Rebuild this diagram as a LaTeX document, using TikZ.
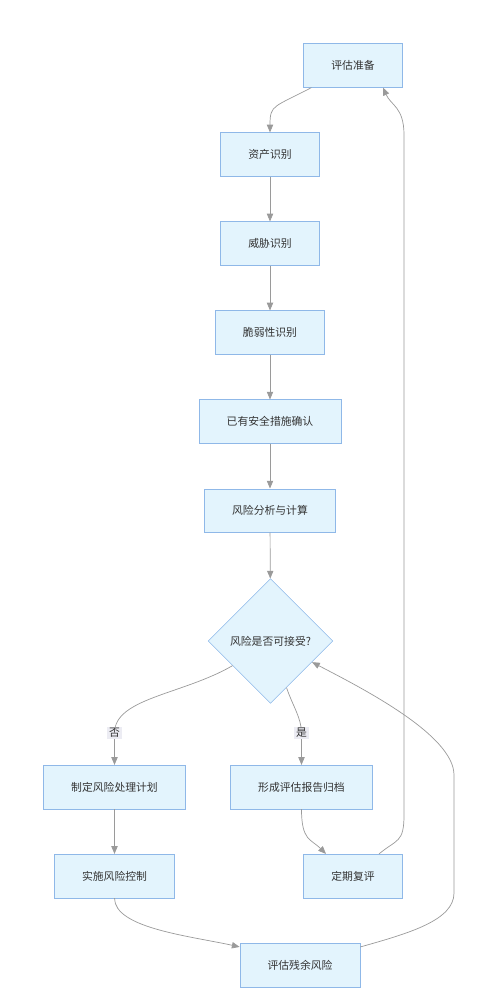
\documentclass[tikz,border=0pt]{standalone}
\usepackage{fontspec}
\setmainfont{Noto Sans CJK SC}
\usepackage{xcolor}
\usetikzlibrary{shapes.geometric, arrows.meta, positioning}
\definecolor{boxfill}{HTML}{E3F4FD}
\definecolor{boxline}{HTML}{8FB8E8}
\definecolor{linegray}{HTML}{9A9A9A}
\definecolor{tagfill}{HTML}{ECECF3}
\definecolor{textdark}{HTML}{333333}
\tikzstyle{process} = [rectangle, minimum height=1.09cm, inner xsep=0.69cm, text centered, draw=boxline, fill=boxfill, text=textdark, font=\fontsize{7.7}{9}\selectfont]
\tikzstyle{decision} = [diamond, minimum width=3.12cm, minimum height=3.12cm, inner sep=0pt, text centered, draw=boxline, fill=boxfill, text=textdark, font=\fontsize{7.7}{9}\selectfont]
\tikzstyle{arrow} = [linegray, line width=0.5pt, ->, >={Stealth[length=5.5pt, width=4.5pt, inset=0pt]}]
\tikzstyle{tag} = [fill=tagfill, text=textdark, inner sep=1.2pt, font=\fontsize{7.7}{9}\selectfont]

\begin{document}
\begin{tikzpicture}[x=0.025cm, y=-0.025cm, node distance=2.225cm]
        \useasboundingbox (0,0) rectangle (498,1000);

        \node (ready) [process] at (353,65.5) {评估准备};
        \node (asset) [process] at (270,154.5) {资产识别};
        \node (threat) [process, below of=asset] {威胁识别};
        \node (vuln) [process, below of=threat] {脆弱性识别};
        \node (exist) [process, below of=vuln] {已有安全措施确认};
        \node (calc) [process, below of=exist] {风险分析与计算};
        \node (accept) [decision] at (270.5,641) {风险是否可接受?};
        \node (plan) [process] at (114.5,787) {制定风险处理计划};
        \node (report) [process] at (301.5,787) {形成评估报告归档};
        \node (apply) [process] at (114.5,876) {实施风险控制};
        \node (review) [process] at (353,876) {定期复评};
        \node (resid) [process] at (300,965) {评估残余风险};

        \draw [arrow] ([xshift=0.2cm]ready.south west) .. controls +(-38,20) and +(0,-28) .. (asset.north);
        \draw [arrow] (asset) -- (threat);
        \draw [arrow] (threat) -- (vuln);
        \draw [arrow] (vuln) -- (exist);
        \draw [arrow] (exist) -- (calc);
        \draw [arrow] (calc) -- (accept);

        % 否 / 是
        \draw [arrow] (accept.213) .. controls +(-50,29) and +(0,-35) .. (114.5,733) node[tag] {否} -- (plan.north);
        \draw [arrow] (accept.-71) .. controls +(6,18) and +(0,-15) .. (301.5,733) node[tag] {是} -- (report.north);

        \draw [arrow] (plan) -- (apply);
        \draw [arrow] (apply.south) .. controls +(0,30) and +(-50,-11) .. ([yshift=-0.1cm]resid.north west);
        \draw [arrow] (report.south) .. controls +(0,32) and +(-15,-15) .. ([xshift=-0.675cm]review.north);

        % 回到评估准备 / 风险判断
        \draw [arrow] ([xshift=0.65cm]review.north) .. controls +(18,-15) and +(0,28) .. (404,815) -- (404,135) .. controls +(0,-28) and +(8,18) .. ([xshift=0.75cm]ready.south);
        \draw [arrow] ([yshift=-0.1cm]resid.north east) .. controls +(50,-14) and +(0,27) .. (454,893) -- (454,775) .. controls +(0,-40) and +(50,26) .. (accept.-27);
    \end{tikzpicture}
\end{document}
